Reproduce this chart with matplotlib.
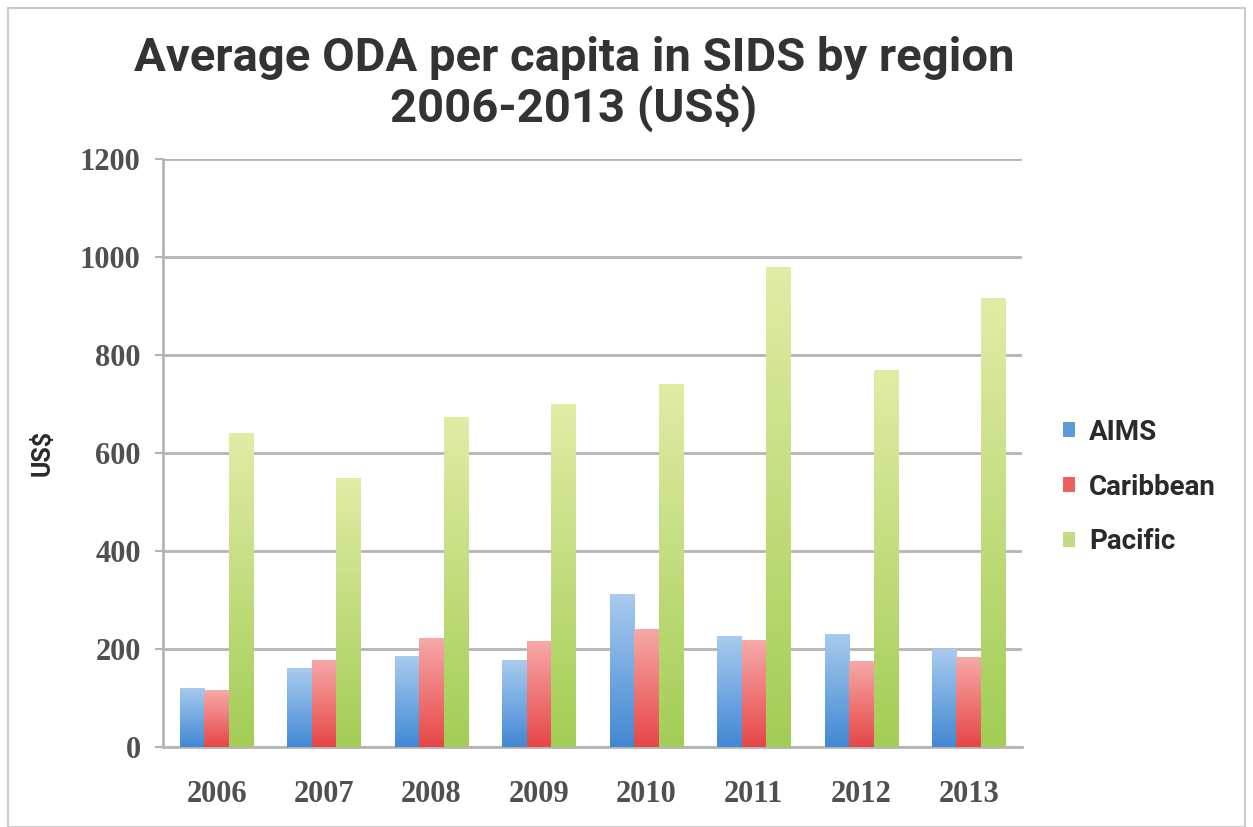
import matplotlib
matplotlib.use('Agg')
import matplotlib.pyplot as plt
import numpy as np
from matplotlib.colors import LinearSegmentedColormap
from matplotlib.patches import Rectangle

years = ['2006', '2007', '2008', '2009', '2010', '2011', '2012', '2013']
regions = ['AIMS', 'Caribbean', 'Pacific']
aims = [121, 161, 185, 177, 312, 227, 231, 200]
caribbean = [116, 178, 222, 217, 241, 218, 176, 184]
pacific = [641, 549, 673, 700, 741, 980, 770, 916]

# (bottom colour, top colour) for the gradient fill
shades = [('#4188d4', '#a9cbee'), ('#e64646', '#f7a9a9'), ('#a3cd55', '#e1eca6')]
legend_colors = ['#5b9bd9', '#ee6060', '#c2dc84']

title_font = ['Roboto', 'DejaVu Sans']
tick_font = ['Liberation Serif', 'DejaVu Serif']

fig = plt.figure(figsize=(12.53, 8.27), dpi=100)
ax = fig.add_axes([0.130, 0.0967, 0.686, 0.711])

x = np.arange(len(years))
w = 0.228
series = [aims, caribbean, pacific]
grad = np.linspace(0, 1, 256).reshape(-1, 1)

for i, vals in enumerate(series):
    bars = ax.bar(x + (i - 1) * w, vals, w, color='none', edgecolor='none', zorder=3)
    cmap = LinearSegmentedColormap.from_list('g%d' % i, shades[i])
    for b in bars:
        x0, y0 = b.get_x(), b.get_y()
        im = ax.imshow(grad, cmap=cmap, origin='lower', aspect='auto', zorder=3,
                       extent=[x0, x0 + b.get_width(), y0, y0 + b.get_height()])
        im.set_clip_path(b)
    # proxy for legend
    ax.bar([0], [0], 0, color=legend_colors[i], label=regions[i])

ax.set_xlim(-0.5, len(years) - 0.5)
ax.set_ylim(0, 1200)
ax.set_yticks(range(0, 1201, 200))
ax.set_xticks(x)
ax.set_xticklabels(years)
ax.yaxis.grid(True, color='#b4b4b4', linewidth=2)
ax.set_axisbelow(True)

for s in ['top', 'right']:
    ax.spines[s].set_visible(False)
for s in ['left', 'bottom']:
    ax.spines[s].set_color('#b4b4b4')
    ax.spines[s].set_linewidth(2)

ax.tick_params(axis='y', length=6, width=1.5, color='#b4b4b4', pad=10)
ax.tick_params(axis='x', length=0, pad=24)
for lab in ax.get_xticklabels() + ax.get_yticklabels():
    lab.set_fontfamily(tick_font)
    lab.set_fontsize(22)
    lab.set_fontweight('bold')
    lab.set_color('#505050')

ax.set_ylabel('US$', fontsize=18, fontweight='bold', family=title_font,
              color='#2a2a2a', labelpad=18)

fig.text(0.458, 0.898, 'Average ODA per capita in SIDS by region\n2006-2013 (US$)',
         ha='center', va='center', fontsize=34, fontweight='bold',
         family=title_font, color='#333333', linespacing=1.1)

leg = ax.legend(loc='center left', bbox_to_anchor=(1.018, 0.442), frameon=False,
                handlelength=0.45, handleheight=0.45, handletextpad=0.5,
                labelspacing=1.0, prop={'family': title_font, 'weight': 'bold', 'size': 20})
for t in leg.get_texts():
    t.set_color('#2a2a2a')

fig.patches.append(Rectangle((0.006, 0.0), 0.988, 0.99, transform=fig.transFigure,
                             fill=False, edgecolor='#cccccc', linewidth=1.5))

fig.savefig('out.png', dpi=100)
